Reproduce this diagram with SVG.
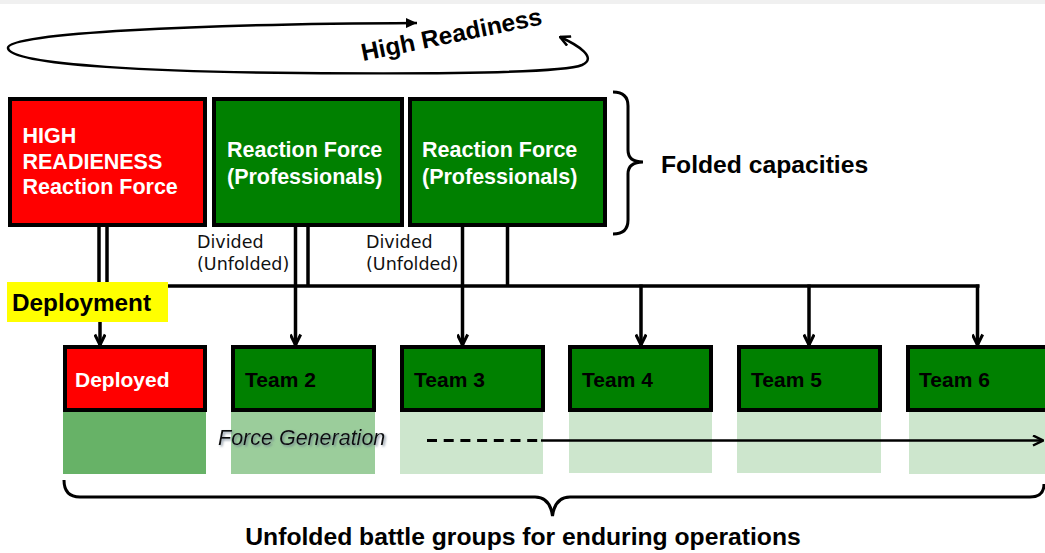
<svg xmlns="http://www.w3.org/2000/svg" width="1045" height="553" viewBox="0 0 1045 553">
<style>
.box{stroke:#000;stroke-width:4}
.red{fill:#ff0000}
.grn{fill:#008000}
.wt{fill:#fff;font-family:"Liberation Sans",Arial,sans-serif;font-weight:bold;font-size:21.5px}
.bt{fill:#000;font-family:"Liberation Sans",Arial,sans-serif;font-weight:bold;font-size:21px}
.lbl{fill:#000;font-family:"Liberation Sans",Arial,sans-serif;font-weight:bold;font-size:24.7px}
.div{fill:#111;font-family:"DejaVu Sans",Verdana,sans-serif;font-size:17.5px}
.ln{stroke:#000;stroke-width:3.5;fill:none}
.thin{stroke:#000;stroke-width:2.5;fill:none}
</style>
<defs>
<marker id="ah" viewBox="0 0 14 12" refX="12" refY="6" markerWidth="14" markerHeight="12" markerUnits="userSpaceOnUse" orient="auto">
<path d="M1.5,0.8 L12,6 L1.5,11.2" fill="none" stroke="#000" stroke-width="3"/>
</marker>
<marker id="ahs" viewBox="0 0 12 10" refX="11" refY="5" markerWidth="12" markerHeight="10" markerUnits="userSpaceOnUse" orient="auto">
<path d="M0,0 L11,5 L0,10 Z" fill="#000"/>
</marker>
<marker id="aho" viewBox="0 0 12 12" refX="11" refY="6" markerWidth="12" markerHeight="12" markerUnits="userSpaceOnUse" orient="auto-start-reverse">
<path d="M1,1 L11,6 L1,11" fill="none" stroke="#000" stroke-width="2.5"/>
</marker>
<filter id="sh" x="-5%" y="-20%" width="115%" height="150%">
<feDropShadow dx="1.5" dy="1.5" stdDeviation="0.8" flood-color="#6a7a8a" flood-opacity="0.8"/>
</filter>
</defs>
<rect x="0" y="0" width="1045" height="4" fill="#f0f0f0"/>

<g id="cycle">
<path d="M560 37 C578 45 598 58 582 65 C560 74 420 74 300 73 C170 72 10 66 8 48 C6 33 200 24 417 23" class="thin" marker-start="url(#aho)" marker-end="url(#ahs)"/>
<text x="363" y="61" transform="rotate(-11.5 363 61)" class="lbl" style="font-size:24.5px">High Readiness</text>
</g>

<g id="connectors">
<line x1="99" y1="227" x2="99" y2="292" class="ln"/>
<line x1="107" y1="227" x2="107" y2="292" class="ln"/>
<line x1="100" y1="290" x2="100" y2="345" class="ln" marker-end="url(#ah)"/>
<line x1="106" y1="286" x2="979.5" y2="286" class="ln"/>
<line x1="295.5" y1="227" x2="295.5" y2="345" class="ln" marker-end="url(#ah)"/>
<line x1="308" y1="227" x2="308" y2="286" class="ln"/>
<line x1="462.5" y1="227" x2="462.5" y2="345" class="ln" marker-end="url(#ah)"/>
<line x1="507.5" y1="227" x2="507.5" y2="286" class="ln"/>
<line x1="641" y1="284.5" x2="641" y2="345" class="ln" marker-end="url(#ah)"/>
<line x1="809" y1="284.5" x2="809" y2="345" class="ln" marker-end="url(#ah)"/>
<line x1="977.5" y1="284.5" x2="977.5" y2="345" class="ln" marker-end="url(#ah)"/>
</g>

<g id="hr-force">
<rect x="10" y="99" width="195" height="126" class="box red"/>
<text class="wt"><tspan x="22.5" y="143">HIGH</tspan><tspan x="22.5" y="169">READIENESS</tspan><tspan x="22.5" y="194">Reaction Force</tspan></text>
</g>
<g id="rf-1">
<rect x="214" y="99" width="188" height="126" class="box grn"/>
<text class="wt"><tspan x="227" y="157">Reaction Force</tspan><tspan x="227" y="184">(Professionals)</tspan></text>
</g>
<g id="rf-2">
<rect x="410" y="99" width="195" height="126" class="box grn"/>
<text class="wt"><tspan x="422" y="157">Reaction Force</tspan><tspan x="422" y="184">(Professionals)</tspan></text>
</g>

<g id="folded">
<path d="M613 92 Q628 92 628 106 L628 150 Q628 162 643 162 Q628 162 628 174 L628 220 Q628 234 613 234" class="ln" style="stroke-width:3"/>
<text x="661" y="173" class="lbl">Folded capacities</text>
</g>

<g id="divided-labels">
<text class="div"><tspan x="197" y="248">Divided</tspan><tspan x="197" y="270">(Unfolded)</tspan></text>
<text class="div"><tspan x="366" y="248">Divided</tspan><tspan x="366" y="270">(Unfolded)</tspan></text>
</g>

<g id="deployment">
<rect x="7" y="282" width="161" height="40" fill="#ffff00"/>
<text x="12" y="311" class="lbl" style="font-size:24.3px">Deployment</text>
</g>

<g id="fg-areas">
<rect x="63" y="412" width="143" height="62" fill="#67b267"/>
<rect x="231" y="412" width="144" height="62" fill="#9bcd9b"/>
<rect x="400" y="412" width="143" height="62" fill="#cde6cd"/>
<rect x="569" y="412" width="143" height="61" fill="#cde6cd"/>
<rect x="737" y="412" width="144" height="61" fill="#cde6cd"/>
<rect x="909" y="412" width="136" height="62" fill="#cde6cd"/>
</g>

<g id="deployed">
<rect x="65" y="347" width="140" height="63" class="box red"/>
<text x="75" y="387" class="wt" style="font-size:21px">Deployed</text>
</g>
<g id="team2">
<rect x="233" y="347" width="141" height="63" class="box grn"/>
<text x="245" y="387" class="bt">Team 2</text>
</g>
<g id="team3">
<rect x="402" y="347" width="141" height="63" class="box grn"/>
<text x="414" y="387" class="bt">Team 3</text>
</g>
<g id="team4">
<rect x="570" y="347" width="141" height="63" class="box grn"/>
<text x="582" y="387" class="bt">Team 4</text>
</g>
<g id="team5">
<rect x="739" y="347" width="141" height="63" class="box grn"/>
<text x="751" y="387" class="bt">Team 5</text>
</g>
<g id="team6">
<rect x="908" y="347" width="141" height="63" class="box grn"/>
<text x="919" y="387" class="bt">Team 6</text>
</g>

<g id="force-generation">
<text x="218" y="445" filter="url(#sh)" style="font-family:'Liberation Sans',Arial,sans-serif;font-style:italic;font-size:21.5px;fill:#111">Force Generation</text>
<line x1="427" y1="440.5" x2="541" y2="440.5" stroke="#000" stroke-width="3" stroke-dasharray="10 6.7"/>
<line x1="541" y1="440.5" x2="1043" y2="440.5" stroke="#000" stroke-width="2.5" marker-end="url(#aho)"/>
</g>

<g id="unfolded">
<path d="M64 480 Q64 497 80 497 L535 497 Q550 497 552.5 516 Q555 497 570 497 L1030 497 Q1044 497 1044 484" class="ln" style="stroke-width:3"/>
<text x="523" y="545" text-anchor="middle" class="lbl">Unfolded battle groups for enduring operations</text>
</g>
</svg>
